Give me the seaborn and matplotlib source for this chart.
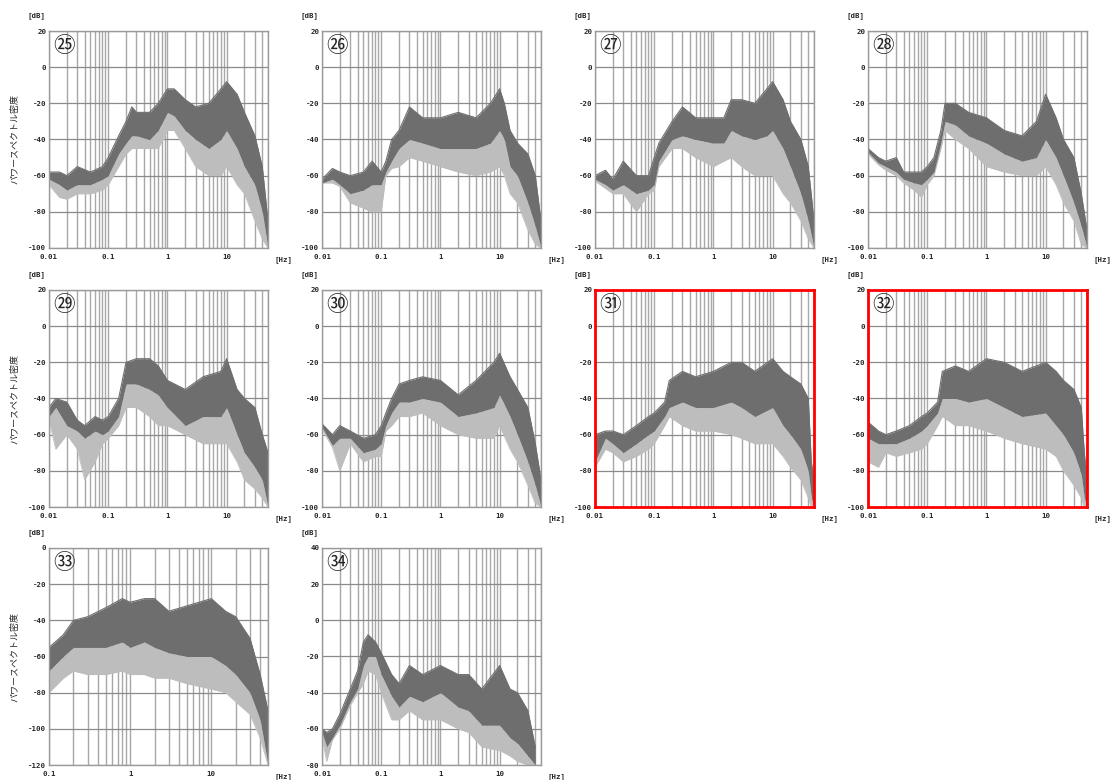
import numpy as np
import pandas as pd
import matplotlib
matplotlib.use("Agg")
import matplotlib.pyplot as plt
import seaborn as sns
from matplotlib.ticker import LogLocator, FixedLocator, NullFormatter

# Power spectral density envelopes (dB)
# top = upper edge of the dense band, mid = lower edge of dense band,
# low = extent of the lighter downward spikes

f25 = [0.01, 0.015, 0.02, 0.03, 0.05, 0.08, 0.1, 0.15, 0.2, 0.25, 0.3, 0.5, 0.7, 1.0, 1.3, 2, 3, 5, 8, 10, 15, 20, 30, 40, 50]
top25 = [-58, -58, -60, -55, -58, -55, -50, -38, -30, -22, -25, -25, -20, -12, -12, -18, -22, -20, -12, -8, -15, -25, -38, -55, -85]
mid25 = [-62, -65, -68, -65, -65, -62, -60, -48, -42, -38, -38, -40, -35, -25, -27, -35, -40, -45, -40, -35, -45, -55, -65, -80, -100]
low25 = [-65, -72, -73, -70, -70, -68, -65, -55, -48, -45, -45, -45, -45, -35, -35, -45, -55, -60, -60, -55, -65, -70, -85, -95, -100]

f26 = [0.01, 0.015, 0.02, 0.03, 0.05, 0.07, 0.1, 0.12, 0.15, 0.2, 0.3, 0.5, 1, 2, 4, 7, 10, 12, 15, 20, 30, 40, 50]
top26 = [-62, -56, -58, -60, -58, -52, -58, -52, -40, -35, -22, -28, -28, -25, -28, -20, -12, -20, -35, -42, -48, -60, -85]
mid26 = [-64, -62, -65, -70, -68, -65, -65, -58, -52, -45, -40, -42, -45, -45, -45, -42, -35, -40, -55, -60, -75, -88, -100]
low26 = [-64, -64, -66, -75, -78, -80, -80, -60, -56, -55, -50, -52, -55, -58, -60, -58, -55, -60, -70, -75, -90, -98, -100]

f27 = [0.01, 0.015, 0.02, 0.03, 0.05, 0.08, 0.1, 0.12, 0.2, 0.3, 0.5, 1, 1.5, 2, 3, 5, 8, 10, 15, 20, 30, 40, 50]
top27 = [-60, -57, -62, -52, -60, -60, -50, -42, -30, -22, -28, -28, -28, -18, -18, -20, -12, -8, -18, -30, -40, -55, -85]
mid27 = [-62, -65, -68, -65, -70, -68, -65, -52, -40, -38, -40, -42, -42, -35, -38, -40, -38, -35, -45, -55, -70, -85, -100]
low27 = [-63, -67, -70, -70, -80, -70, -68, -55, -45, -45, -50, -55, -52, -50, -55, -60, -60, -60, -70, -75, -85, -95, -100]

f28 = [0.01, 0.015, 0.02, 0.03, 0.04, 0.06, 0.08, 0.1, 0.13, 0.17, 0.2, 0.3, 0.5, 1, 2, 4, 7, 10, 15, 20, 30, 40, 50]
top28 = [-45, -50, -52, -50, -58, -58, -58, -55, -50, -35, -20, -20, -25, -28, -35, -38, -30, -15, -28, -40, -50, -70, -90]
mid28 = [-47, -53, -55, -58, -62, -64, -65, -62, -58, -42, -30, -32, -38, -42, -48, -52, -50, -40, -50, -60, -75, -88, -100]
low28 = [-48, -54, -57, -60, -64, -68, -72, -65, -60, -45, -35, -40, -45, -55, -58, -60, -60, -55, -65, -75, -85, -98, -100]

f29 = [0.01, 0.013, 0.02, 0.03, 0.04, 0.06, 0.08, 0.1, 0.15, 0.2, 0.3, 0.5, 0.7, 1, 2, 4, 8, 10, 15, 20, 30, 40, 50]
top29 = [-45, -40, -42, -52, -55, -50, -52, -50, -40, -20, -18, -18, -22, -30, -35, -28, -25, -18, -35, -40, -45, -60, -70]
mid29 = [-50, -45, -55, -58, -62, -58, -60, -58, -50, -32, -32, -35, -38, -45, -55, -50, -50, -45, -60, -70, -78, -85, -100]
low29 = [-52, -68, -60, -68, -85, -75, -65, -62, -55, -45, -45, -50, -55, -55, -60, -65, -65, -65, -75, -85, -90, -95, -100]

f30 = [0.01, 0.015, 0.02, 0.03, 0.05, 0.08, 0.1, 0.12, 0.15, 0.2, 0.3, 0.5, 1, 2, 4, 8, 10, 15, 20, 30, 40, 50]
top30 = [-54, -60, -55, -58, -62, -60, -55, -48, -40, -32, -30, -28, -30, -38, -30, -20, -15, -28, -35, -45, -65, -85]
mid30 = [-56, -66, -62, -62, -70, -68, -65, -55, -48, -42, -42, -40, -42, -50, -48, -45, -38, -50, -60, -75, -88, -100]
low30 = [-57, -67, -80, -65, -75, -72, -72, -58, -55, -50, -50, -48, -55, -60, -62, -62, -55, -68, -75, -88, -98, -100]

f31 = [0.01, 0.015, 0.02, 0.03, 0.05, 0.08, 0.1, 0.15, 0.18, 0.3, 0.5, 1, 2, 3, 5, 10, 15, 20, 30, 40, 45, 50]
top31 = [-60, -58, -58, -60, -55, -50, -48, -42, -30, -25, -28, -25, -20, -20, -25, -18, -25, -28, -32, -40, -75, -85]
mid31 = [-75, -62, -65, -70, -65, -60, -58, -50, -45, -42, -45, -45, -42, -45, -50, -45, -55, -60, -68, -80, -95, -100]
low31 = [-78, -68, -70, -75, -72, -68, -65, -55, -50, -55, -58, -58, -60, -62, -65, -65, -72, -78, -85, -95, -100, -100]

f32 = [0.01, 0.015, 0.02, 0.03, 0.05, 0.08, 0.1, 0.15, 0.18, 0.3, 0.5, 1, 2, 4, 10, 15, 20, 30, 40, 45, 50]
top32 = [-53, -58, -60, -58, -55, -50, -48, -42, -25, -22, -25, -18, -20, -25, -20, -25, -30, -35, -45, -70, -85]
mid32 = [-62, -65, -65, -65, -62, -58, -55, -48, -40, -40, -42, -40, -45, -50, -48, -55, -60, -70, -82, -95, -100]
low32 = [-75, -78, -70, -72, -70, -68, -65, -55, -50, -55, -55, -58, -62, -65, -68, -72, -80, -88, -95, -100, -100]

f33 = [0.1, 0.15, 0.2, 0.3, 0.5, 0.8, 1, 1.5, 2, 3, 5, 10, 15, 20, 30, 40, 50]
top33 = [-55, -48, -40, -38, -33, -28, -30, -28, -28, -35, -32, -28, -35, -38, -50, -70, -90]
mid33 = [-68, -60, -55, -55, -55, -52, -55, -52, -55, -58, -60, -60, -65, -70, -80, -95, -120]
low33 = [-80, -72, -68, -70, -70, -68, -70, -70, -72, -72, -75, -78, -80, -85, -92, -105, -120]

f34 = [0.01, 0.012, 0.015, 0.02, 0.03, 0.04, 0.05, 0.06, 0.08, 0.1, 0.15, 0.2, 0.3, 0.5, 1, 2, 3, 5, 10, 15, 20, 30, 40]
top34 = [-60, -62, -60, -52, -38, -28, -12, -8, -12, -18, -30, -35, -25, -30, -25, -30, -30, -38, -25, -38, -40, -50, -70]
mid34 = [-62, -70, -65, -58, -45, -38, -25, -20, -20, -30, -42, -48, -42, -45, -40, -48, -50, -58, -58, -65, -68, -75, -80]
low34 = [-65, -78, -66, -60, -47, -40, -35, -28, -30, -40, -55, -55, -50, -55, -55, -60, -62, -70, -72, -75, -78, -80, -80]

panel_labels = ["㉕", "㉖", "㉗", "㉘", "㉙", "㉚", "㉛", "㉜", "㉝", "㉞"]
freqs = [f25, f26, f27, f28, f29, f30, f31, f32, f33, f34]
tops = [top25, top26, top27, top28, top29, top30, top31, top32, top33, top34]
mids = [mid25, mid26, mid27, mid28, mid29, mid30, mid31, mid32, mid33, mid34]
lows = [low25, low26, low27, low28, low29, low30, low31, low32, low33, low34]
ylims = [(-100, 20)] * 8 + [(-120, 0), (-80, 40)]
xlims = [(0.01, 50)] * 8 + [(0.1, 50), (0.01, 50)]
highlighted = [6, 7]  # panels 31 and 32 get a red frame

sns.set_style("white")
plt.rcParams["font.family"] = ["Noto Sans CJK JP", "DejaVu Sans"]

W, H = 1119, 780
fig = plt.figure(figsize=(W / 100, H / 100), dpi=100)

col_left = [49, 322, 595, 868]
row_top = [31, 290, 548]
ax_w, ax_h = 219, 217

DARK = "#6e6e6e"
LIGHT = "#bdbdbd"
tick_font = dict(family="DejaVu Sans Mono", weight="bold", size=5.3)

for i in range(10):
    r, c = divmod(i, 4)
    left = col_left[c] / W
    bottom = 1 - (row_top[r] + ax_h) / H
    ax = fig.add_axes([left, bottom, ax_w / W, ax_h / H])

    df = pd.DataFrame({"f": freqs[i], "top": tops[i], "mid": mids[i], "low": lows[i]})
    ax.fill_between(df["f"], df["low"], df["mid"], color=LIGHT, lw=0, zorder=3)
    ax.fill_between(df["f"], df["mid"], df["top"], color=DARK, lw=0, zorder=4)
    sns.lineplot(data=df, x="f", y="top", ax=ax, color=DARK, lw=0.8, zorder=5)
    sns.lineplot(data=df, x="f", y="low", ax=ax, color=LIGHT, lw=0.6, zorder=3)

    ax.set_xscale("log")
    ax.set_xlim(*xlims[i])
    ax.set_ylim(*ylims[i])
    ax.set_xlabel("")
    ax.set_ylabel("")

    # decade ticks + minor grid
    lo_dec = int(np.log10(xlims[i][0]))
    xt = [10.0 ** k for k in range(lo_dec, 2) if 10.0 ** k <= xlims[i][1]]
    ax.xaxis.set_major_locator(FixedLocator(xt))
    ax.set_xticklabels([("%g" % v) for v in xt], fontdict=tick_font)
    ax.xaxis.set_minor_locator(LogLocator(base=10, subs=np.arange(2, 10), numticks=20))
    ax.xaxis.set_minor_formatter(NullFormatter())
    yt = np.arange(ylims[i][0], ylims[i][1] + 1, 20)
    ax.set_yticks(yt)
    ax.set_yticklabels([str(int(v)) for v in yt], fontdict=tick_font)

    ax.grid(True, which="major", axis="y", color="#8a8a8a", lw=0.9, zorder=1)
    ax.grid(True, which="both", axis="x", color="#a8a8a8", lw=1.0, zorder=1)
    ax.set_axisbelow(True)
    ax.tick_params(which="both", length=0)
    ax.tick_params(axis="x", pad=4.5)
    ax.tick_params(axis="y", pad=2)

    frame_col = "red" if i in highlighted else "#9a9a9a"
    frame_lw = 2.0 if i in highlighted else 1.0
    for s in ax.spines.values():
        s.set_color(frame_col)
        s.set_linewidth(frame_lw)
        s.set_zorder(6)

    ax.text(0.068, 0.932, panel_labels[i], transform=ax.transAxes, fontsize=15.5,
            ha="center", va="center", zorder=7,
            family=["Noto Sans CJK JP", "DejaVu Sans"])
    ax.annotate("[dB]", xy=(0, 1), xycoords="axes fraction", xytext=(-9, 11),
                textcoords="offset points", ha="center", va="center", **tick_font)
    ax.annotate("[Hz]", xy=(1, 0), xycoords="axes fraction", xytext=(11, -8),
                textcoords="offset points", ha="center", va="center", **tick_font)

    if c == 0:
        ax.text(-34 / ax_w, 0.5, "パワースペクトル密度", transform=ax.transAxes,
                rotation=90, ha="center", va="center", fontsize=6.5,
                family=["Noto Sans CJK JP", "DejaVu Sans"])

fig.savefig("out.png", dpi=100, facecolor="white")
